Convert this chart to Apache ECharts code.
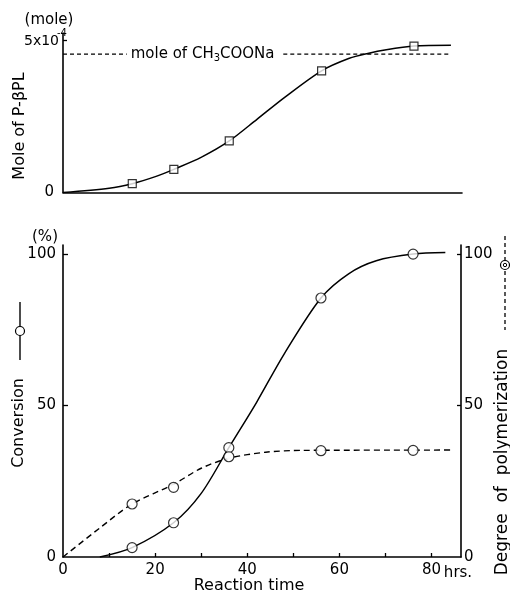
<!DOCTYPE html>
<html>
<head>
<meta charset="utf-8">
<script src="https://cdn.jsdelivr.net/npm/echarts@6/dist/echarts.min.js"></script>
<style>
  html, body { margin: 0; padding: 0; background: #fff; }
  #chart { width: 510px; height: 596px; }
</style>
</head>
<body>
<div id="chart"></div>
<script>
// Sampling times (hrs.)
const hours = [15, 24, 36, 56, 76];
// Mole of P-βPL (×10^-4 mole)
const moleP = [0.29, 0.76, 1.69, 3.99, 4.80];
// Conversion (%)
const conversion = [3.1, 11.3, 36.1, 85.5, 100];
// Degree of polymerization
const polymerization = [17.5, 23.0, 33.1, 35.1, 35.2];
// Mole of CH3COONa charged (×10^-4 mole)
const naMole = 4.54;

// Hand-drawn fitted curves through the measurements
const moleCurve = [[0, 0], [10, 0.14], [15, 0.29], [20, 0.52], [24, 0.76], [30, 1.16], [36, 1.69], [42, 2.4], [48, 3.12], [56, 3.99], [62, 4.4], [66, 4.56], [70, 4.68], [76, 4.8], [84, 4.83]];
const conversionCurve = [[8, 0], [15, 3.1], [24, 11.3], [30, 21], [36, 36.1], [42, 51], [48, 67], [56, 85.5], [62, 93.5], [68, 97.8], [76, 100], [83, 100.5]];
const polymerizationCurve = [[0, 0], [8, 9.6], [15, 17.5], [24, 24], [30, 29.3], [36, 32.6], [44, 34.6], [52, 35.2], [84.6, 35.3]];

// Tick labels
const xTicks = [0, 20, 40, 60, 80];
const xMinorTicks = [10, 20, 30, 40, 50, 60, 70, 80];
const pctTicks = [0, 50, 100];

const FONT = 'DejaVu Sans';
const INK = '#000';
const pair = (xs, ys) => xs.map((x, i) => [x, ys[i]]);

const chart = echarts.init(document.getElementById('chart'), null, { renderer: 'canvas' });

const axisLineStyle = { show: true, lineStyle: { color: INK, width: 1.6 } };
const curveStyle = { color: INK, width: 1.5 };
const naDash = { color: INK, width: 1.3, type: [4, 3] };

function txt(text, x, y, opts) {
  return Object.assign({
    type: 'text', x: x, y: y,
    style: Object.assign({ text: text, fill: INK, font: '16px "' + FONT + '"', align: 'center', verticalAlign: 'middle' }, opts && opts.style)
  }, opts && opts.el);
}

const option = {
  animation: false,
  backgroundColor: '#fff',
  textStyle: { fontFamily: FONT, color: INK },
  grid: [
    { left: 63, right: 48, top: 33, height: 159.5 },
    { left: 63, right: 49, top: 245, height: 312 }
  ],
  xAxis: [
    { gridIndex: 0, type: 'value', min: 0, max: 86.4, interval: 10,
      axisLine: axisLineStyle, axisTick: { show: false }, axisLabel: { show: false }, splitLine: { show: false } },
    { gridIndex: 1, type: 'value', min: 0, max: 86.4, interval: 10,
      axisLine: axisLineStyle,
      axisTick: { show: true, inside: true, length: 4, customValues: xMinorTicks, lineStyle: { color: INK, width: 1.3 } },
      axisLabel: { customValues: xTicks, margin: 6, fontSize: 15, color: INK, fontFamily: FONT },
      splitLine: { show: false } }
  ],
  yAxis: [
    { gridIndex: 0, type: 'value', min: 0, max: 5.23,
      axisLine: axisLineStyle,
      axisTick: { show: true, inside: true, length: 4, customValues: [5], lineStyle: { color: INK, width: 1.3 } },
      axisLabel: { customValues: [0], margin: 9, fontSize: 15, color: INK, fontFamily: FONT },
      splitLine: { show: false } },
    { gridIndex: 1, type: 'value', min: 0, max: 103, interval: 50,
      axisLine: axisLineStyle,
      axisTick: { show: true, inside: true, length: 5, customValues: [50, 100], lineStyle: { color: INK, width: 1.3 } },
      axisLabel: { customValues: pctTicks, margin: 7, fontSize: 15, color: INK, fontFamily: FONT },
      splitLine: { show: false } },
    { gridIndex: 1, type: 'value', position: 'right', min: 0, max: 103, interval: 50,
      axisLine: axisLineStyle,
      axisTick: { show: true, inside: true, length: 4, customValues: [50, 100], lineStyle: { color: INK, width: 1.3 } },
      axisLabel: { customValues: pctTicks, margin: 3, fontSize: 15, color: INK, fontFamily: FONT },
      splitLine: { show: false } }
  ],
  series: [
    // Top panel: CH3COONa reference level, split around its label
    { type: 'line', xAxisIndex: 0, yAxisIndex: 0, data: [[0, naMole], [13.8, naMole]], symbol: 'none',
      lineStyle: naDash,
      endLabel: { show: true, distance: 4, formatter: 'mole of CH{sub|3}COONa',
        fontSize: 15, color: INK, fontFamily: FONT,
        rich: { sub: { fontSize: 10, fontFamily: FONT, color: INK, padding: [9, 0, 0, 0] } } } },
    { type: 'line', xAxisIndex: 0, yAxisIndex: 0, data: [[47.7, naMole], [84, naMole]], symbol: 'none',
      lineStyle: naDash },
    // Top panel: mole of P-βPL
    { type: 'line', xAxisIndex: 0, yAxisIndex: 0, data: moleCurve, symbol: 'none', smooth: 0.3,
      lineStyle: curveStyle },
    { type: 'scatter', xAxisIndex: 0, yAxisIndex: 0, data: pair(hours, moleP), symbol: 'rect', symbolSize: 8,
      itemStyle: { color: '#fff', borderColor: INK, borderWidth: 1.2 }, z: 5 },
    // Bottom panel: conversion
    { type: 'line', xAxisIndex: 1, yAxisIndex: 1, data: conversionCurve, symbol: 'none', smooth: 0.3,
      lineStyle: curveStyle },
    { type: 'scatter', xAxisIndex: 1, yAxisIndex: 1, data: pair(hours, conversion), symbol: 'circle', symbolSize: 10,
      itemStyle: { color: '#fff', borderColor: INK, borderWidth: 1.2 }, z: 5 },
    // Bottom panel: degree of polymerization
    { type: 'line', xAxisIndex: 1, yAxisIndex: 2, data: polymerizationCurve, symbol: 'none', smooth: 0.3,
      lineStyle: { color: INK, width: 1.4, type: [6, 4] } },
    { type: 'scatter', xAxisIndex: 1, yAxisIndex: 2, data: pair(hours, polymerization), symbol: 'circle', symbolSize: 10,
      itemStyle: { color: '#fff', borderColor: INK, borderWidth: 1.2 }, z: 5 },
    { type: 'scatter', xAxisIndex: 1, yAxisIndex: 2, data: pair(hours, polymerization), symbol: 'emptyCircle', symbolSize: 4,
      itemStyle: { color: '#fff', borderColor: INK, borderWidth: 1 }, z: 6 }
  ],
  graphic: [
    txt('(mole)', 49, 20, { style: { font: '15px "' + FONT + '"' } }),
    txt('5x10', 24, 41, { style: { align: 'left', font: '14px "' + FONT + '"' } }),
    txt('-4', 57, 33, { style: { align: 'left', font: '10px "' + FONT + '"' } }),
    txt('Mole of P-\u03b2PL', 20, 126, { el: { rotation: Math.PI / 2 } }),
    txt('(%)', 45, 237, { style: { font: '15px "' + FONT + '"' } }),
    txt('Conversion', 19, 423, { el: { rotation: Math.PI / 2 } }),
    { type: 'line', shape: { x1: 20, y1: 302, x2: 20, y2: 360 }, style: { stroke: INK, lineWidth: 1.4 } },
    { type: 'circle', shape: { cx: 20, cy: 331, r: 4.5 }, style: { fill: '#fff', stroke: INK, lineWidth: 1.2 }, z: 10 },
    txt('Degree  of  polymerization', 503, 462, { el: { rotation: Math.PI / 2 }, style: { font: '17px "' + FONT + '"' } }),
    { type: 'line', shape: { x1: 505, y1: 236, x2: 505, y2: 330 }, style: { stroke: INK, lineWidth: 1.3, lineDash: [4, 3] } },
    { type: 'circle', shape: { cx: 505, cy: 265, r: 4.5 }, style: { fill: '#fff', stroke: INK, lineWidth: 1.2 }, z: 10 },
    { type: 'circle', shape: { cx: 505, cy: 265, r: 1.7 }, style: { fill: '#fff', stroke: INK, lineWidth: 1 }, z: 11 },
    txt('Reaction time', 249, 586),
    txt('hrs.', 458, 573, { style: { font: '15px "' + FONT + '"' } })
  ]
};

chart.setOption(option);
</script>
</body>
</html>
